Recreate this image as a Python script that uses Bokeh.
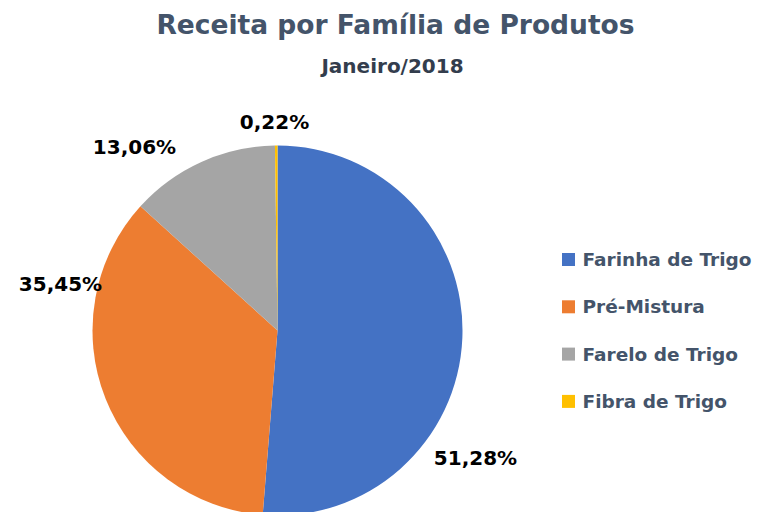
import math
from bokeh.plotting import figure
from bokeh.models import Range1d, ColumnDataSource
from bokeh.core.properties import value
from bokeh.embed import file_html
from bokeh.resources import INLINE

# ---- data ----
categories = ["Farinha de Trigo", "Pré-Mistura", "Farelo de Trigo", "Fibra de Trigo"]
shares = [51.28, 35.45, 13.06, 0.22]
labels = ["51,28%", "35,45%", "13,06%", "0,22%"]
colors = ["#4472C4", "#ED7D31", "#A5A5A5", "#FFC000"]

# ---- layout (pixel-like data space) ----
W, H = 758, 512
cx, cy, r = 277, 182, 185
label_x = [475, 60, 134, 274]
label_y = [55, 229, 366, 391]

total = sum(shares)
starts, ends = [], []
acc = 0.0
for s in shares:
    a0 = math.pi / 2 - 2 * math.pi * acc / total
    acc += s
    a1 = math.pi / 2 - 2 * math.pi * acc / total
    starts.append(a0)
    ends.append(a1)

src = ColumnDataSource(dict(cat=categories, start=starts, end=ends, color=colors,
                            x=[cx] * len(shares), y=[cy] * len(shares)))

p = figure(width=W, height=H, x_range=Range1d(0, W), y_range=Range1d(0, H),
           output_backend="svg", toolbar_location=None, min_border=0,
           x_axis_type=None, y_axis_type=None)
p.grid.visible = False
p.outline_line_color = None
p.background_fill_color = "white"
p.border_fill_color = "white"

p.wedge(x="x", y="y", radius=r, start_angle="start", end_angle="end",
        direction="clock", fill_color="color", line_color=None, source=src)

FONT = value("DejaVu Sans")

# data labels
p.text(x=label_x, y=label_y, text=labels, text_align="center", text_baseline="middle",
       text_font=FONT, text_font_style="bold", text_font_size="20px",
       text_color="black")

# title
p.text(x=[395], y=[488], text=["Receita por Família de Produtos"], text_align="center",
       text_baseline="middle", text_font=FONT, text_font_style="bold",
       text_font_size="26.5px", text_color="#44546A")
p.text(x=[392], y=[447], text=["Janeiro/2018"], text_align="center",
       text_baseline="middle", text_font=FONT, text_font_style="bold",
       text_font_size="20px", text_color="#333d4d")

# legend (manual)
leg_x = 568
leg_y0 = 253
leg_step = 47.3
ly = [leg_y0 - i * leg_step for i in range(len(categories))]
p.scatter(x=[leg_x] * len(categories), y=ly, marker="square", size=13,
          fill_color=colors, line_color=None)
p.text(x=[leg_x + 14] * len(categories), y=ly, text=categories, text_align="left",
       text_baseline="middle", text_font=FONT, text_font_style="bold",
       text_font_size="18.5px", text_color="#44546A")

open("out.html", "w").write(file_html(p, INLINE))
